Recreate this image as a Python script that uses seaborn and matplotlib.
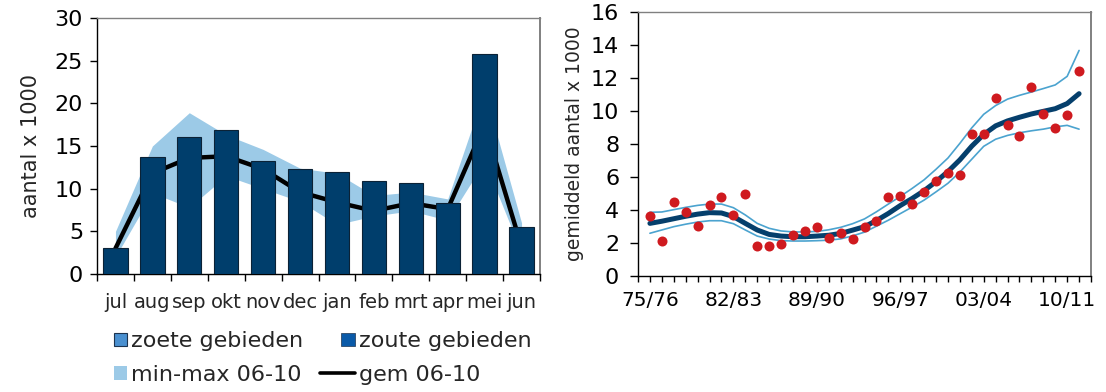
import numpy as np
import pandas as pd
import matplotlib
matplotlib.use("Agg")
import matplotlib.pyplot as plt
import seaborn as sns
from matplotlib.patches import Patch, Rectangle
from matplotlib.lines import Line2D
from matplotlib.legend_handler import HandlerPatch
from matplotlib.ticker import MultipleLocator, FixedLocator, NullFormatter

# ---- monthly counts (x 1000) ----
months = ["jul", "aug", "sep", "okt", "nov", "dec", "jan", "feb", "mrt", "apr", "mei", "jun"]
zoete = [0, 0, 0, 0, 0, 0, 0, 0, 0, 0, 0, 0]
zoute = [3.0, 13.7, 16.1, 16.85, 13.3, 12.3, 11.9, 10.85, 10.65, 8.35, 25.75, 5.5]
gem_0610 = [3.0, 11.8, 13.6, 13.8, 12.3, 9.6, 8.4, 7.4, 8.3, 7.6, 17.5, 3.2]
min_0610 = [2.0, 9.5, 7.8, 11.5, 10.0, 8.5, 5.8, 6.8, 7.4, 6.3, 13.2, 2.5]
max_0610 = [5.0, 15.0, 18.9, 16.3, 14.6, 12.4, 11.8, 9.2, 9.6, 8.8, 21.5, 6.0]

# ---- seasonal averages (x 1000) with trend and its band ----
seasons = ["75/76", "76/77", "77/78", "78/79", "79/80", "80/81", "81/82", "82/83",
           "83/84", "84/85", "85/86", "86/87", "87/88", "88/89", "89/90", "90/91",
           "91/92", "92/93", "93/94", "94/95", "95/96", "96/97", "97/98", "98/99",
           "99/00", "00/01", "01/02", "02/03", "03/04", "04/05", "05/06", "06/07",
           "07/08", "08/09", "09/10", "10/11", "11/12"]
avg_count = [3.64, 2.11, 4.46, 3.87, 3.05, 4.32, 4.79, 3.72, 4.97, 1.82, 1.84, 1.96,
             2.46, 2.73, 2.94, 2.31, 2.58, 2.25, 2.96, 3.36, 4.76, 4.83, 4.38, 5.12,
             5.76, 6.23, 6.13, 8.63, 8.63, 10.76, 9.13, 8.47, 11.48, 9.82, 8.96, 9.76,
             12.42]
trend = [3.19, 3.32, 3.47, 3.62, 3.75, 3.84, 3.82, 3.60, 3.19, 2.79, 2.52, 2.42,
         2.38, 2.38, 2.42, 2.47, 2.58, 2.78, 2.99, 3.36, 3.79, 4.27, 4.70, 5.17,
         5.72, 6.33, 7.04, 7.87, 8.58, 9.10, 9.40, 9.62, 9.82, 9.98, 10.14, 10.45,
         11.05]
trend_hi = [3.86, 3.88, 4.02, 4.16, 4.28, 4.36, 4.36, 4.14, 3.70, 3.19, 2.89, 2.73,
            2.67, 2.67, 2.70, 2.80, 2.95, 3.17, 3.46, 3.89, 4.36, 4.82, 5.31, 5.83,
            6.47, 7.15, 8.04, 8.98, 9.80, 10.33, 10.72, 10.95, 11.15, 11.36, 11.58,
            12.10, 13.67]
trend_lo = [2.59, 2.79, 2.99, 3.14, 3.27, 3.35, 3.35, 3.17, 2.79, 2.42, 2.24, 2.14,
            2.12, 2.12, 2.14, 2.17, 2.25, 2.43, 2.66, 3.02, 3.38, 3.78, 4.18, 4.60,
            5.10, 5.62, 6.30, 7.08, 7.86, 8.29, 8.52, 8.68, 8.80, 8.90, 9.04, 9.13,
            8.90]
label_every = 7

# ---- styling ----
NAVY = "#003e6c"
BAND = "#9ccae7"
ZOETE_C = "#4a90d0"
ZOUTE_C = "#0a5aa8"
RED = "#cf1a1f"
TREND_C = "#053f6c"
TREND_BAND_C = "#4ba3cf"
GREY = "#808080"

sns.set_theme(style="ticks")
plt.rcParams["font.family"] = ["DejaVu Sans"]
plt.rcParams["axes.linewidth"] = 1.0

fig = plt.figure(figsize=(11.06, 3.92), dpi=100)
W, H = 1106, 392


def px_axes(x0, y0, x1, y1):
    return fig.add_axes([x0 / W, 1 - y1 / H, (x1 - x0) / W, (y1 - y0) / H])


ax1 = px_axes(97, 18, 540, 274)
ax2 = px_axes(638, 12, 1091, 276)

# ---------------- left: monthly bars ----------------
df_m = pd.DataFrame({"maand": months, "zoete": zoete, "zoute": zoute,
                     "gem": gem_0610, "min": min_0610, "max": max_0610})
df_m["pos"] = np.arange(len(months))

ax1.fill_between(df_m["pos"], df_m["min"], df_m["max"], color=BAND, lw=0, zorder=1)
sns.lineplot(data=df_m, x="pos", y="gem", color="black", lw=3.2, ax=ax1,
             zorder=2, solid_joinstyle="miter")
sns.barplot(data=df_m, x="pos", y="zoute", color=NAVY, saturation=1, width=0.66,
            edgecolor="#0b2236", linewidth=0.8, ax=ax1, native_scale=True, zorder=3)
ax1.bar(df_m["pos"], df_m["zoete"], bottom=df_m["zoute"], width=0.66,
        color=ZOETE_C, linewidth=0, zorder=3)
for p in ax1.patches:
    p.set_zorder(3)

ax1.set_xlim(-0.5, len(months) - 0.5)
ax1.set_ylim(0, 30)
ax1.yaxis.set_major_locator(MultipleLocator(5))
ax1.xaxis.set_major_locator(FixedLocator(np.arange(-0.5, len(months), 1.0)))
ax1.xaxis.set_major_formatter(NullFormatter())
ax1.xaxis.set_minor_locator(FixedLocator(df_m["pos"]))
ax1.set_xticklabels(months, minor=True)
ax1.tick_params(axis="x", which="major", length=5, width=1, color="black", direction="out")
ax1.tick_params(axis="x", which="minor", length=0, pad=14, labelsize=14)
ax1.tick_params(axis="y", length=5, width=1, color="black", pad=5, labelsize=16)
ax1.set_xlabel("")
ax1.set_ylabel("aantal x 1000", fontsize=15, labelpad=10)

# ---------------- right: seasonal trend ----------------
df_s = pd.DataFrame({"seizoen": seasons, "aantal": avg_count, "trend": trend,
                     "hi": trend_hi, "lo": trend_lo})
df_s["pos"] = np.arange(len(seasons))

sns.lineplot(data=df_s, x="pos", y="hi", color=TREND_BAND_C, lw=1.2, ax=ax2, zorder=2)
sns.lineplot(data=df_s, x="pos", y="lo", color=TREND_BAND_C, lw=1.2, ax=ax2, zorder=2)
sns.lineplot(data=df_s, x="pos", y="trend", color=TREND_C, lw=3.6, ax=ax2, zorder=3)
sns.scatterplot(data=df_s, x="pos", y="aantal", color=RED, s=52, linewidth=0,
                ax=ax2, zorder=4)

ax2.set_xlim(-1, len(seasons))
ax2.set_ylim(0, 16)
ax2.yaxis.set_major_locator(MultipleLocator(2))
label_pos = df_s["pos"][::label_every]
ax2.xaxis.set_major_locator(FixedLocator(label_pos))
ax2.set_xticklabels(df_s["seizoen"][::label_every])
ax2.xaxis.set_minor_locator(FixedLocator(np.arange(-1, len(seasons) + 1)))
ax2.tick_params(axis="x", which="both", length=4, width=1, color="black", direction="out")
ax2.tick_params(axis="x", which="major", pad=7, labelsize=14.5)
ax2.tick_params(axis="y", length=5.5, width=1, color="black", pad=8, labelsize=16)
ax2.set_xlabel("")
ax2.set_ylabel("gemiddeld aantal x 1000", fontsize=13.5, labelpad=5)

for ax in (ax1, ax2):
    ax.spines["left"].set_color("black")
    ax.spines["bottom"].set_color("black")
    ax.spines["top"].set_color(GREY)
    ax.spines["right"].set_color(GREY)
    ax.spines["right"].set_linewidth(1.4)
    ax.set_facecolor("white")
    ax.tick_params(colors="black", labelcolor="black")


# ---------------- legend ----------------
def right_square(legend, orig_handle, xdescent, ydescent, width, height, fontsize):
    s = 0.6 * fontsize
    return Rectangle((-xdescent + width - s, -ydescent + (height - s) / 2), s, s)


handles = [
    Patch(facecolor=ZOETE_C, edgecolor="#1d3450", lw=0.8),
    Patch(facecolor=BAND, edgecolor="none"),
    Patch(facecolor=ZOUTE_C, edgecolor="#1d3450", lw=0.5),
    Line2D([0], [0], color="black", lw=2.6),
]
labels = ["zoete gebieden", "min-max 06-10", "zoute gebieden", "gem 06-10"]
sq = HandlerPatch(patch_func=right_square)
fig.legend(handles, labels, ncol=2, loc="upper left",
           bbox_to_anchor=(92 / W, 1 - 331 / H), frameon=False, fontsize=16,
           handlelength=1.58, handleheight=0.7, handletextpad=0.18,
           labelspacing=0.62, columnspacing=0.74, borderpad=0, borderaxespad=0,
           handler_map={Patch: sq})

fig.savefig("out.png", dpi=100, facecolor="white")
